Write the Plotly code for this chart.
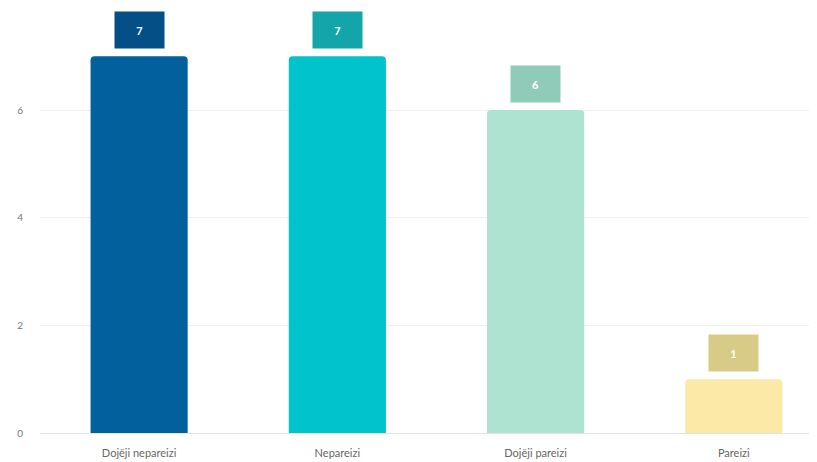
import plotly.graph_objects as go

categories = ["Dojěji nepareizi", "Nepareizi", "Dojěji pareizi", "Pareizi"]
values = [7, 7, 6, 1]
bar_colors = ["#02619c", "#00c3cb", "#aee3d2", "#fce9a7"]
label_colors = ["#034f86", "#14a5aa", "#8fcbb8", "#d8cb88"]

fig = go.Figure()
fig.add_trace(go.Bar(
    x=categories, y=values,
    marker=dict(color=bar_colors, cornerradius=4, line=dict(width=0)),
    width=0.49, hoverinfo="skip",
))

for c, v, lc in zip(categories, values, label_colors):
    fig.add_annotation(
        x=c, y=v, xref="x", yref="y", text="<b>%d</b>" % v,
        showarrow=False, yanchor="bottom", yshift=7,
        bgcolor=lc, width=45, height=32,
        font=dict(color="white", size=11, family="Lato"),
        borderpad=2,
    )

fig.update_layout(
    width=817, height=462,
    margin=dict(l=32, r=0, t=2, b=37),
    plot_bgcolor="white", paper_bgcolor="white",
    showlegend=False,
    font=dict(family="Lato", color="#666"),
    xaxis=dict(range=[-0.5, 3.46], showgrid=False, showline=False, ticks="",
               ticklabelstandoff=12,
               tickfont=dict(size=11, color="#666")),
    yaxis=dict(range=[0, 7.86], tickvals=[0, 2, 4, 6], showgrid=True,
               gridcolor="#f0f0f0", zeroline=True, zerolinecolor="#e4e4e4",
               zerolinewidth=1, ticks="", ticklabelstandoff=16,
               tickfont=dict(size=10, color="#777")),
)

fig.write_html("out.html")
